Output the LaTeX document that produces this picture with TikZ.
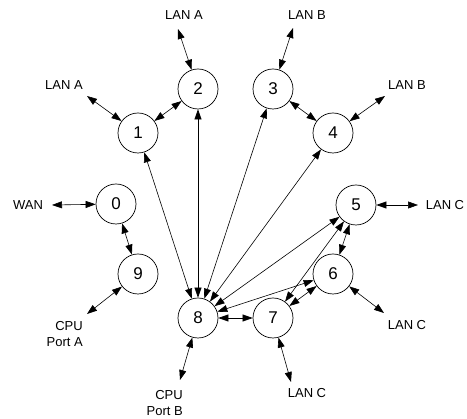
\documentclass[tikz,border=0pt]{standalone}
\usepackage{fontspec}
\setmainfont{Liberation Sans}
\usetikzlibrary{arrows.meta}
\begin{document}
\begin{tikzpicture}[x=1pt,y=-1pt,
  port/.style={circle,draw,line width=0.7pt,minimum size=40pt,inner sep=0pt,font=\fontsize{17}{17}\selectfont},
  lbl/.style={inner sep=0pt,font=\fontsize{13}{15.5}\selectfont,align=center},
  cpulbl/.style={lbl,align=right,anchor=east},
  link/.style={line width=0.6pt,{Triangle[length=10pt,width=7pt]}-{Triangle[length=10pt,width=7pt]}}]
\useasboundingbox (0,0) rectangle (467,419);
\node[port] (n0) at (116,204) {0};
\node[port] (n1) at (138,133) {1};
\node[port] (n2) at (198,89) {2};
\node[port] (n3) at (273,89) {3};
\node[port] (n4) at (333,133) {4};
\node[port] (n5) at (356,205) {5};
\node[port] (n6) at (333,274) {6};
\node[port] (n7) at (273,318) {7};
\node[port] (n8) at (198,318) {8};
\node[port] (n9) at (138,274) {9};
% labels
\node[lbl] (la2) at (184,15) {LAN A};
\node[lbl] (la1) at (64,85) {LAN A};
\node[lbl] (wan) at (28,205) {WAN};
\node[lbl] (lb3) at (307,15) {LAN B};
\node[lbl] (lb4) at (407,85) {LAN B};
\node[lbl] (lc5) at (445,205) {LAN C};
\node[lbl] (lc6) at (407,325) {LAN C};
\node[lbl] (lc7) at (307,393) {LAN C};
\node[cpulbl] (cpa) at (83,334) {CPU\\Port A};
\node[cpulbl] (cpb) at (183,403) {CPU\\Port B};
% free ends
\coordinate (e2) at (178,29);
\coordinate (e1) at (87,96);
\coordinate (e0) at (52,205);
\coordinate (e3) at (293,28);
\coordinate (e4) at (385,96);
\coordinate (e5) at (418,205);
\coordinate (e6) at (384,313);
\coordinate (e7) at (291,382);
\coordinate (e8) at (180,380);
\coordinate (e9) at (87,314);
% external links
\draw[link] (e2) -- (n2);
\draw[link] (e1) -- (n1);
\draw[link] (e0) -- (n0);
\draw[link] (e3) -- (n3);
\draw[link] (e4) -- (n4);
\draw[link] (e5) -- (n5);
\draw[link] (e6) -- (n6);
\draw[link] (e7) -- (n7);
\draw[link] (e8) -- (n8);
\draw[link] (e9) -- (n9);
% internal links
\draw[link] (n1) -- (n2);
\draw[link] (n3) -- (n4);
\draw[link] (n0) -- (n9);
\draw[link] (n5) -- (n6);
\draw[link] (n6) -- (n7);
\draw[link] (n5) -- (n7);
\foreach \t in {n1,n2,n3,n4,n5,n6,n7}
  \draw[link] (n8) -- (\t);
\end{tikzpicture}
\end{document}
